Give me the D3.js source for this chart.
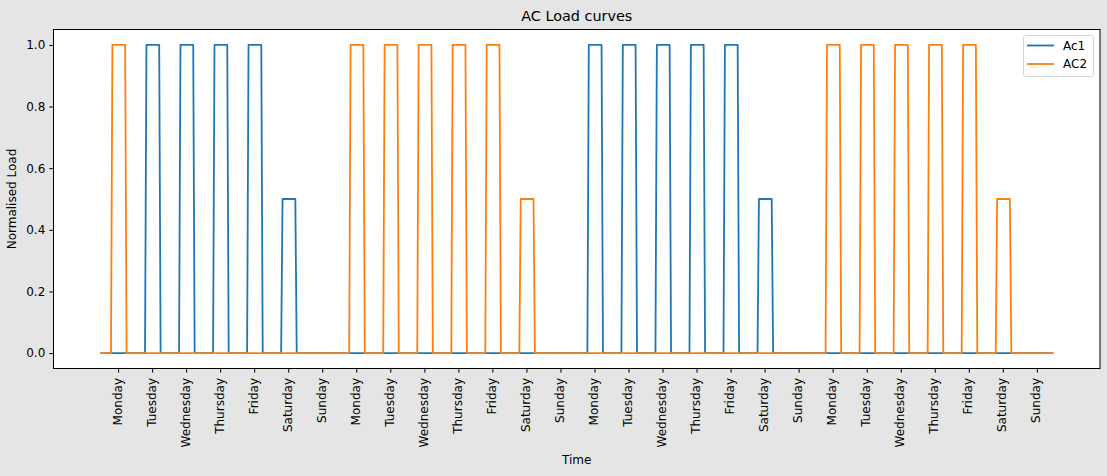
<!DOCTYPE html>
<html>
<head>
<meta charset="utf-8">
<script src="https://cdn.jsdelivr.net/npm/d3@7"></script>
<style>
  html, body { margin: 0; padding: 0; background: #e5e5e5; }
  svg { display: block; }
  text { font-family: "DejaVu Sans", sans-serif; fill: #000; }
</style>
</head>
<body>
<svg id="chart" width="1107" height="476"></svg>
<script>
// ---- data ----
const dayNames = ["Monday", "Tuesday", "Wednesday", "Thursday", "Friday", "Saturday", "Sunday"];
const numWeeks = 4;
const hoursPerDay = 24;
// daily peak level for each AC, one value per day over 4 weeks
const ac1Daily = [0, 1, 1, 1, 1, 0.5, 0,
                  0, 0, 0, 0, 0, 0, 0,
                  1, 1, 1, 1, 1, 0.5, 0,
                  0, 0, 0, 0, 0, 0, 0];
const ac2Daily = [1, 0, 0, 0, 0, 0, 0,
                  1, 1, 1, 1, 1, 0.5, 0,
                  0, 0, 0, 0, 0, 0, 0,
                  1, 1, 1, 1, 1, 0.5, 0];
const onHour = 8;    // AC switched on from this hour
const offHour = 18;  // ... until this hour
const seriesNames = ["Ac1", "AC2"];
const seriesColors = ["#1f77b4", "#ff7f0e"];
const yTicks = [0.0, 0.2, 0.4, 0.6, 0.8, 1.0];

// hourly curves built from the daily levels
function hourly(daily) {
  const out = [];
  daily.forEach(level => {
    for (let h = 0; h < hoursPerDay; h++) out.push(h >= onHour && h < offHour ? level : 0);
  });
  return out;
}
const series = [hourly(ac1Daily), hourly(ac2Daily)];
const nPts = series[0].length;
const tickIdx = d3.range(numWeeks * 7).map(d => d * hoursPerDay + 12);
const tickLabels = tickIdx.map((d, i) => dayNames[i % 7]);

// ---- layout ----
const svg = d3.select("#chart");
const L = 53.5, R = 1100, T = 29.5, B = 368.5;
const xm = (nPts - 1) * 0.05;
const x = d3.scaleLinear().domain([-xm, nPts - 1 + xm]).range([L, R]);
const y = d3.scaleLinear().domain([-0.05, 1.05]).range([B, T]);

svg.append("rect").attr("x", L).attr("y", T).attr("width", R - L).attr("height", B - T).attr("fill", "#fff");

// lines
const line = d3.line().x((d, i) => x(i)).y(d => y(d));
series.forEach((s, k) => {
  svg.append("path").datum(s).attr("d", line)
    .attr("fill", "none").attr("stroke", seriesColors[k])
    .attr("stroke-width", 1.8).attr("stroke-linejoin", "round").attr("stroke-linecap", "square");
});

// frame
svg.append("rect").attr("x", L).attr("y", T).attr("width", R - L).attr("height", B - T)
  .attr("fill", "none").attr("stroke", "#000").attr("stroke-width", 1);

// x axis
const xAxis = d3.axisBottom(x).tickValues(tickIdx).tickFormat((d, i) => tickLabels[i])
  .tickSize(4.2).tickPadding(4);
const gx = svg.append("g").attr("transform", `translate(0,${B})`).call(xAxis);
gx.select(".domain").remove();
gx.selectAll(".tick line").attr("stroke", "#000");
gx.selectAll(".tick text")
  .attr("font-size", 12).attr("font-family", "DejaVu Sans")
  .attr("text-anchor", "end").attr("dy", null)
  .attr("transform", "translate(0,9.5) rotate(-90)")
  .attr("x", 0).attr("y", 3);

// y axis
const yAxis = d3.axisLeft(y).tickValues(yTicks).tickFormat(d3.format(".1f"))
  .tickSize(4.2).tickPadding(4);
const gy = svg.append("g").attr("transform", `translate(${L},0)`).call(yAxis);
gy.select(".domain").remove();
gy.selectAll(".tick line").attr("stroke", "#000");
gy.selectAll(".tick text").attr("font-size", 12).attr("font-family", "DejaVu Sans");

// titles
svg.append("text").attr("x", (L + R) / 2).attr("y", 21).attr("text-anchor", "middle")
  .attr("font-size", 14.4).text("AC Load curves");
svg.append("text").attr("x", (L + R) / 2).attr("y", 464).attr("text-anchor", "middle")
  .attr("font-size", 12).text("Time");
svg.append("text").attr("transform", `translate(16,${(T + B) / 2}) rotate(-90)`)
  .attr("text-anchor", "middle").attr("font-size", 12).text("Normalised Load");

// legend
const lg = svg.append("g");
lg.append("rect").attr("x", 1023.5).attr("y", 35.5).attr("width", 70).attr("height", 41)
  .attr("rx", 2.5).attr("fill", "#fff").attr("fill-opacity", 0.8).attr("stroke", "#d6d6d6");
seriesNames.forEach((n, k) => {
  const yy = 45.5 + k * 18.5;
  lg.append("line").attr("x1", 1027).attr("x2", 1054).attr("y1", yy).attr("y2", yy)
    .attr("stroke", seriesColors[k]).attr("stroke-width", 1.8);
  lg.append("text").attr("x", 1063).attr("y", yy).attr("dominant-baseline", "central")
    .attr("font-size", 12).text(n);
});
</script>
</body>
</html>
